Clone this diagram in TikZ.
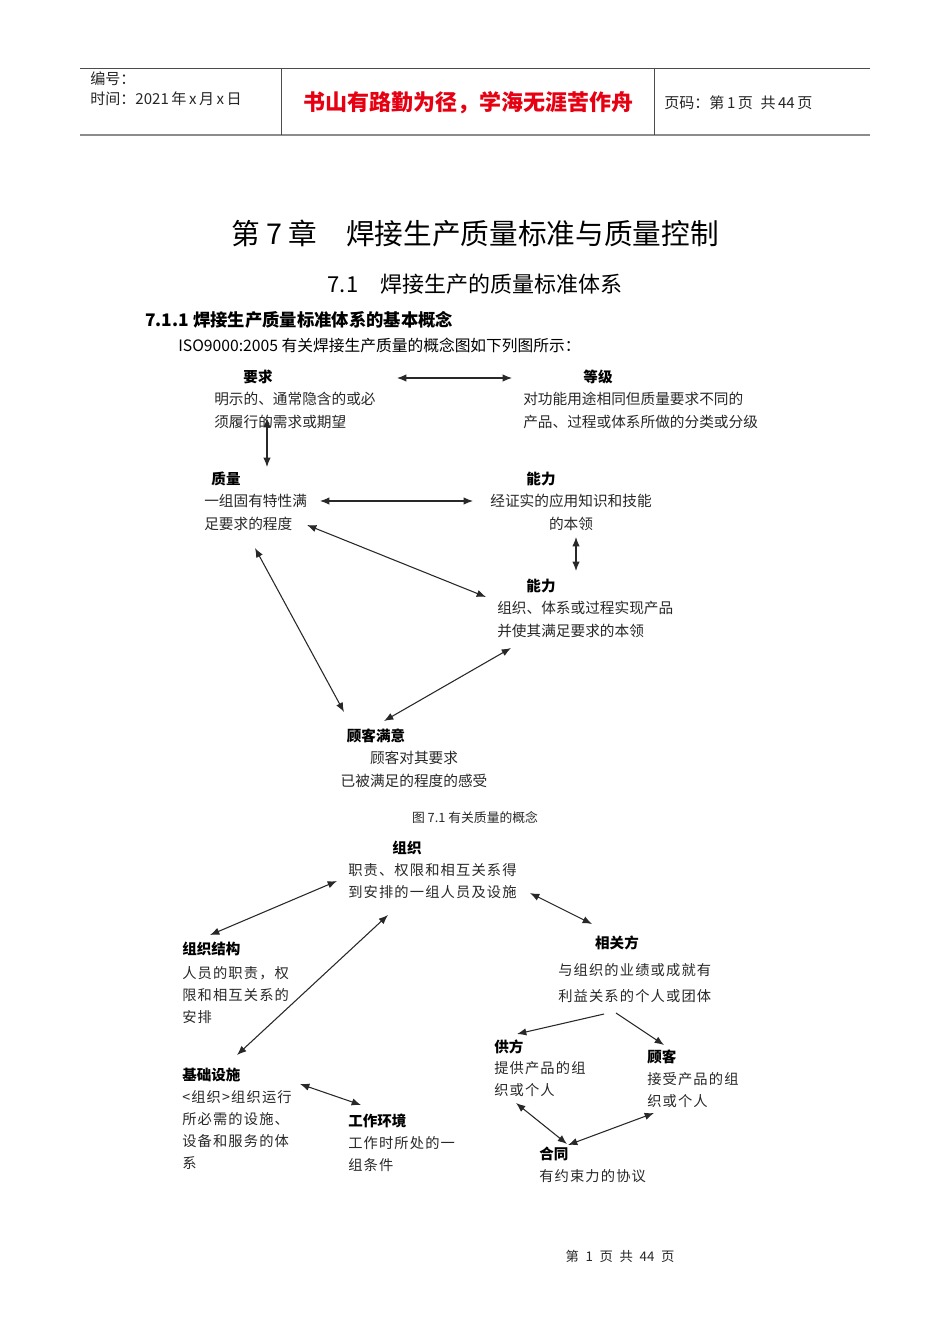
\documentclass[tikz,border=0pt]{standalone}
\usepackage{fontspec}
\setmainfont{Noto Sans CJK SC}
\newfontfamily\widefont[LetterSpace=8]{Noto Sans CJK SC}
\usetikzlibrary{arrows.meta}
\definecolor{redtxt}{RGB}{230,0,18}
\definecolor{ink}{RGB}{40,40,40}

\begin{document}
\begin{tikzpicture}[
    x=0.75pt, y=-0.75pt,
    ttl/.style={inner sep=0pt, text=black, font=\fontsize{10.9}{13}\selectfont\bfseries},
    txt/.style={inner sep=0pt, anchor=north west, align=left, text=ink, font=\fontsize{11}{17.25}\selectfont},
    wtxt/.style={txt, font=\widefont\fontsize{10.7}{16.5}\selectfont},
    head/.style={inner sep=0pt, anchor=west, text=black!85, font=\fontsize{11.3}{13}\selectfont},
    dbl/.style={{Latex[length=7pt,width=5.5pt]}-{Latex[length=7pt,width=5.5pt]}, draw=ink, line width=0.8pt},
    arrow/.style={-{Latex[length=7pt,width=5.5pt]}, draw=ink, line width=0.8pt}
]
\fill[white] (0,0) rectangle (950,1344);
\useasboundingbox (0,0) rectangle (950,1344);

% Header
\draw[black!70, line width=0.7pt] (80,68) -- (870,68);
\draw[black!45, line width=1.5pt] (80,135) -- (870,135);
\draw[black!70, line width=0.6pt] (281,68) -- (281,135) (654,68) -- (654,135);
\node[head] (num) at (90,79) {编号：};
\node[head] (date) at (90,99) {时间：2021\,年\,x\,月\,x\,日};
\node[inner sep=0pt, text=redtxt, font=\fontsize{16.5}{20}\selectfont\bfseries] (motto) at (468,103) {书山有路勤为径，学海无涯苦作舟};
\node[head] (page) at (664,103) {页码：第\,1\,页\enspace 共\,44\,页};

% Headings
\node[inner sep=0pt, font=\fontsize{21.5}{25}\selectfont] (chap) at (475,234) {第 7 章　焊接生产质量标准与质量控制};
\node[inner sep=0pt, font=\fontsize{16.5}{19}\selectfont] (sec) at (475,284) {7.1　焊接生产的质量标准体系};
\node[inner sep=0pt, anchor=west, font=\fontsize{13}{16}\selectfont\bfseries] (subsec) at (145,320) {7.1.1 焊接生产质量标准体系的基本概念};
\node[inner sep=0pt, anchor=west, font=\fontsize{11.8}{14}\selectfont] (intro) at (178,345) {ISO9000:2005 有关焊接生产质量的概念图如下列图所示：};

% Figure 7.1
\node[ttl] (reqT) at (258,377) {要求};
\node[txt] (req) at (214,391.5) {明示的、通常隐含的或必\\须履行的需求或期望};
\node[ttl] (grdT) at (598,377) {等级};
\node[txt] (grd) at (523,391.5) {对功能用途相同但质量要求不同的\\产品、过程或体系所做的分类或分级};
\node[ttl] (qualT) at (226,479) {质量};
\node[txt] (qual) at (204,493.5) {一组固有特性满\\足要求的程度};
\node[ttl] (cap1T) at (541,479) {能力};
\node[txt, anchor=north, align=center] (cap1) at (571,493.5) {经证实的应用知识和技能\\的本领};
\node[ttl] (cap2T) at (541,586) {能力};
\node[txt] (cap2) at (497,600.5) {组织、体系或过程实现产品\\并使其满足要求的本领};
\node[ttl] (satT) at (376,736) {顾客满意};
\node[txt, anchor=north, align=center] (sat) at (414,750.5) {顾客对其要求\\已被满足的程度的感受};

\draw[dbl] ([shift={(139,1)}]reqT.center) -- ([shift={(-86,1)}]grdT.center);
\draw[dbl] ([shift={(53,26.5)}]req.north west) -- ([shift={(41,-12)}]qualT.center);
\draw[dbl] ([shift={(116,7.5)}]qual.north west) -- ([shift={(-98,7.5)}]cap1.north);
\draw[dbl] ([shift={(5,43.5)}]cap1.north) -- ([shift={(35,-15)}]cap2T.center);
\draw[dbl] ([shift={(103,31.5)}]qual.north west) -- ([shift={(-11,-3.5)}]cap2.north west);
\draw[dbl] ([shift={(51,54.5)}]qual.north west) -- ([shift={(-32,-24)}]satT.center);
\draw[dbl] ([shift={(14,47.5)}]cap2.north west) -- ([shift={(8,-15)}]satT.center);

\node[inner sep=0pt, text=ink, font=\fontsize{9.6}{11}\selectfont] (cap) at (475,818) {图 7.1 有关质量的概念};

% Organisation figure
\node[ttl] (orgT) at (407,848) {组织};
\node[wtxt] (org) at (348,863.5) {职责、权限和相互关系得\\到安排的一组人员及设施};
\node[ttl, anchor=west] (strT) at (182,949) {组织结构};
\node[wtxt] (str) at (182,966.5) {人员的职责，权\\限和相互关系的\\安排};
\node[ttl] (parT) at (617,943) {相关方};
\node[wtxt, font=\widefont\fontsize{10.7}{19.5}\selectfont] (par) at (558,963.5) {与组织的业绩或成就有\\利益关系的个人或团体};
\node[ttl, anchor=west] (infT) at (182,1075) {基础设施};
\node[wtxt] (inf) at (182,1090.5) {<组织>组织运行\\所必需的设施、\\设备和服务的体\\系};
\node[ttl, anchor=west] (envT) at (348,1121) {工作环境};
\node[wtxt] (env) at (348,1136.5) {工作时所处的一\\组条件};
\node[ttl, anchor=west] (supT) at (494,1047) {供方};
\node[wtxt] (sup) at (494,1061.5) {提供产品的组\\织或个人};
\node[ttl, anchor=west] (cusT) at (647,1057) {顾客};
\node[wtxt] (cus) at (647,1072.5) {接受产品的组\\织或个人};
\node[ttl, anchor=west] (conT) at (539,1154) {合同};
\node[wtxt] (con) at (539,1169.5) {有约束力的协议};

\draw[dbl] ([shift={(28,-14)}]strT.west) -- ([shift={(-11,17.5)}]org.north west);
\draw[dbl] ([shift={(182,29.5)}]org.north west) -- ([shift={(-25,-19)}]parT.center);
\draw[dbl] ([shift={(55,-20)}]infT.west) -- ([shift={(40,51.5)}]org.north west);
\draw[arrow] ([shift={(46,50.5)}]par.north west) -- ([shift={(23,-13)}]supT.west);
\draw[arrow] ([shift={(58,49.5)}]par.north west) -- ([shift={(17,-12)}]cusT.west);
\draw[dbl] ([shift={(22,41.5)}]sup.north west) -- ([shift={(28,-10)}]conT.west);
\draw[dbl] ([shift={(29,-9)}]conT.west) -- ([shift={(7,40.5)}]cus.north west);
\draw[dbl] ([shift={(118,9)}]infT.west) -- ([shift={(13,-16)}]envT.west);

% Footer
\node[inner sep=0pt, text=ink, font=\fontsize{10}{12}\selectfont] (foot) at (620,1256) {第\enspace 1\enspace 页\enspace 共\enspace 44\enspace 页};
\end{tikzpicture}
\end{document}
